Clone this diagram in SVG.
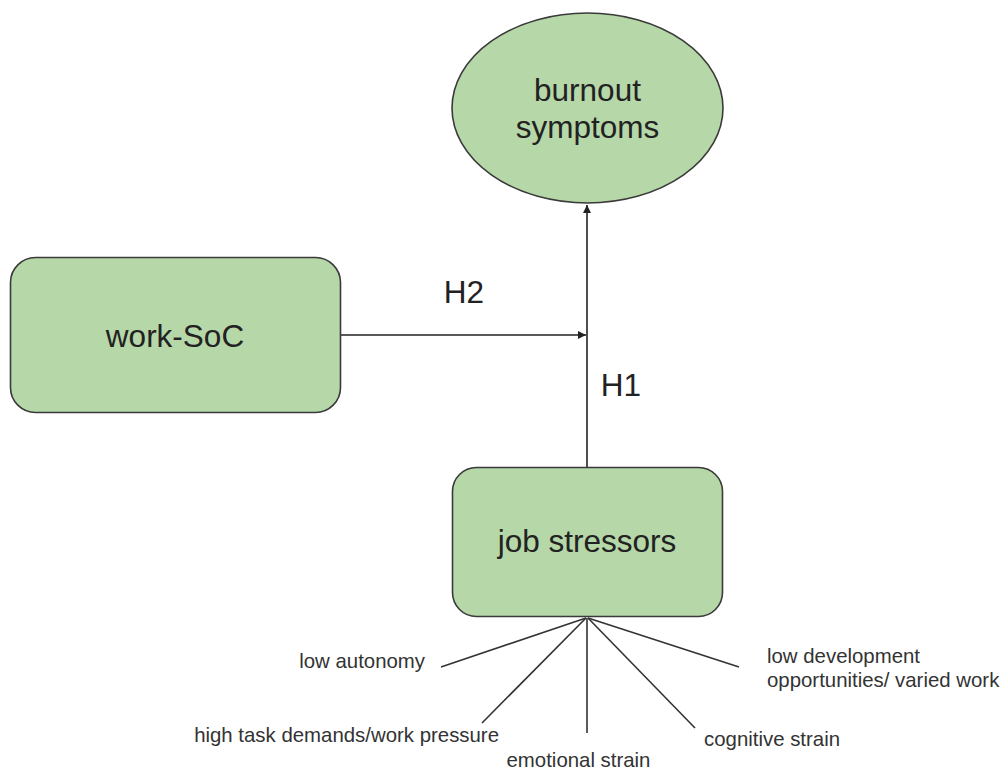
<svg xmlns="http://www.w3.org/2000/svg" width="1005" height="772" viewBox="0 0 1005 772">
<style>
.node{fill:#b6d7a8;stroke:#3a3a3a;stroke-width:1.6}
.big{font-family:"Liberation Sans",Arial,sans-serif;font-size:31.5px;fill:#222;text-anchor:middle}
.small{font-family:"Liberation Sans",Arial,sans-serif;font-size:20.4px;fill:#333}
.edge{stroke:#222;stroke-width:1.6;fill:none}
.fan{stroke:#333;stroke-width:1.6;fill:none}
</style>
<defs>
<marker id="ah" viewBox="0 0 10 10" refX="10" refY="5" markerWidth="10" markerHeight="8" markerUnits="userSpaceOnUse" orient="auto">
<path d="M0,0 L10,5 L0,10 z" fill="#222"/>
</marker>
</defs>
<rect width="1005" height="772" fill="#fff"/>
<g id="connectors">
<line class="edge" x1="587" y1="467" x2="587" y2="205" marker-end="url(#ah)"/>
<line class="edge" x1="341" y1="335" x2="586" y2="335" marker-end="url(#ah)"/>
<line class="fan" x1="586" y1="618" x2="441" y2="667"/>
<line class="fan" x1="586" y1="618" x2="482" y2="723"/>
<line class="fan" x1="587" y1="618" x2="587" y2="733"/>
<line class="fan" x1="588" y1="618" x2="695" y2="728"/>
<line class="fan" x1="588" y1="618" x2="739" y2="667"/>
<text class="big" x="464" y="303">H2</text>
<text class="big" x="621" y="396">H1</text>
</g>
<g id="burnout">
<ellipse class="node" cx="587.5" cy="108" rx="135.5" ry="95"/>
<text class="big" x="587.5" y="101">burnout</text>
<text class="big" x="587.5" y="138">symptoms</text>
</g>
<g id="worksoc">
<rect class="node" x="10.5" y="257.5" width="330" height="155" rx="25"/>
<text class="big" x="175" y="347">work-SoC</text>
</g>
<g id="jobstressors">
<rect class="node" x="452.5" y="467.5" width="270" height="149" rx="24"/>
<text class="big" x="587" y="552">job stressors</text>
</g>
<g id="labels">
<text class="small" x="425" y="668" text-anchor="end">low autonomy</text>
<text class="small" x="499" y="742" text-anchor="end">high task demands/work pressure</text>
<text class="small" x="578.5" y="767" text-anchor="middle">emotional strain</text>
<text class="small" x="704" y="746">cognitive strain</text>
<text class="small" x="767" y="663">low development</text>
<text class="small" x="767" y="687">opportunities/ varied work</text>
</g>
</svg>
